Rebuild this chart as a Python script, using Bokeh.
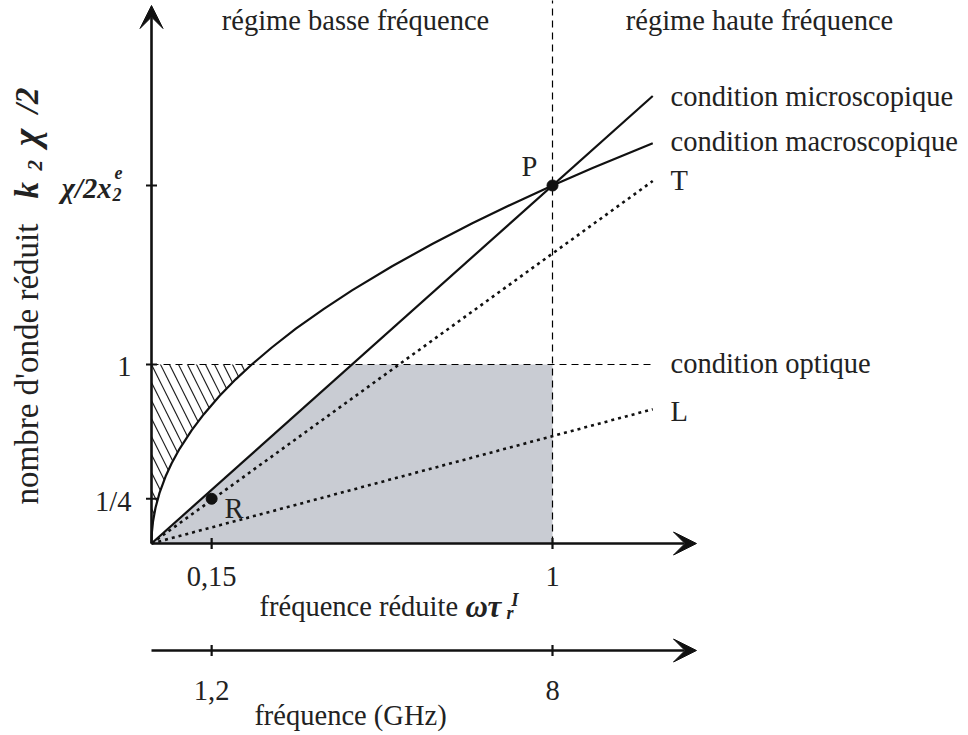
import numpy as np
from bokeh.plotting import figure
from bokeh.models import Arrow, VeeHead, Range1d
from bokeh.core.properties import value
from bokeh.embed import file_html
from bokeh.resources import INLINE

# ---------------- data ----------------
x_tick_vals = [0.15, 1.0]
x_tick_labels = ["0,15", "1"]
ghz_tick_vals = [0.15, 1.0]
ghz_tick_labels = ["1,2", "8"]
y_tick_vals = [0.25, 1.0, 2.0]
y_tick_labels = ["1/4", "1", "χ/2x"]

x_end = 1.25             # right end of the drawn curves
micro_slope = 2.0        # condition microscopique : straight line
T_slope = 1.62           # T (dotted)
L_slope = 0.60           # L (dotted)
optical_y = 1.0          # condition optique
crossover_x = 1.0        # low / high frequency boundary

# condition macroscopique
macro_x = [0.0, 0.001, 0.004, 0.01, 0.02, 0.035, 0.05, 0.07, 0.10, 0.13, 0.17,
           0.21, 0.25, 0.30, 0.36, 0.43, 0.50, 0.60, 0.70, 0.80, 0.90, 1.00,
           1.10, 1.25]
macro_y = [0.0, 0.063, 0.126, 0.20, 0.283, 0.374, 0.447, 0.529, 0.632, 0.721,
           0.825, 0.917, 1.0, 1.095, 1.20, 1.311, 1.414, 1.549, 1.673, 1.789,
           1.897, 2.0, 2.098, 2.236]

P_pt = (1.0, 2.0)
R_pt = (0.15, 0.25)

# ---------------- layout helpers (page pixels -> data) ----------------
OX, OY, SX, SY = 152.0, 544.0, 401.0, 179.0
OFF = 1
W, H = 960, 733
TB = 6   # text baseline correction (px)


def X(px):
    return (px - OX) / SX


def Y(py):
    return (OY - py) / SY


def TY(py):
    return Y(py - TB)


def TX(px):
    return X(px - TB)


FONT = value("Liberation Serif")
FS = "28.5px"

p = figure(width=W, height=H, output_backend="svg", toolbar_location=None,
           x_range=Range1d(X(OFF), X(OFF + W)), y_range=Range1d(Y(OFF + H), Y(OFF)),
           min_border=0, outline_line_color=None)
p.axis.visible = False
p.grid.visible = False
p.background_fill_color = "white"

# gray region (below microscopic line, below optical condition, left of crossover)
gx = [0.0, optical_y / micro_slope, crossover_x, crossover_x]
gy = [0.0, optical_y, optical_y, 0.0]
p.patch(gx, gy, fill_color="#c9ccd3", line_color=None)

# hatched region (left of macroscopic curve, below optical condition)
hx = [0.0, 0.0]
hy = [0.0, optical_y]
idx = [i for i, v in enumerate(macro_y) if v <= optical_y]
for i in reversed(idx):
    hx.append(macro_x[i])
    hy.append(macro_y[i])
p.patch(hx, hy, fill_alpha=0, line_color=None, hatch_pattern="\\",
        hatch_color="#222222", hatch_weight=1.2, hatch_scale=18)

# dashed guides
p.line([0.0, x_end], [optical_y, optical_y], line_color="black",
       line_width=1.2, line_dash="7 5")
p.line([crossover_x, crossover_x], [0.0, Y(0)], line_color="black",
       line_width=1.2, line_dash="7 5")

# curves
p.line([0.0, x_end], [0.0, micro_slope * x_end], line_color="#111111", line_width=2.2)
p.line(macro_x, macro_y, line_color="#111111", line_width=2.2)
p.line([0.0, x_end], [0.0, T_slope * x_end], line_color="#111111",
       line_width=2.6, line_dash="3 4")
p.line([0.0, x_end], [0.0, L_slope * x_end], line_color="#111111",
       line_width=2.6, line_dash="3 4")

# points
p.scatter([P_pt[0], R_pt[0]], [P_pt[1], R_pt[1]], size=11, color="#111111")

# axes (arrows)
head = dict(size=23, fill_color="#111111", line_color="#111111")
p.add_layout(Arrow(end=VeeHead(**head), x_start=0.0, y_start=0.0,
                   x_end=0.0, y_end=Y(6), line_width=2.6, line_color="#111111"))
p.add_layout(Arrow(end=VeeHead(**head), x_start=0.0, y_start=0.0,
                   x_end=X(697), y_end=0.0, line_width=2.6, line_color="#111111"))
ghz_y = Y(651)
p.add_layout(Arrow(end=VeeHead(**head), x_start=0.0, y_start=ghz_y,
                   x_end=X(697), y_end=ghz_y, line_width=2.6, line_color="#111111"))

# ticks
tk = 5.5
p.segment(x0=[X(OX - tk)] * 3, y0=y_tick_vals, x1=[X(OX + tk)] * 3, y1=y_tick_vals,
          line_color="#111111", line_width=2.2)
p.segment(x0=x_tick_vals, y0=[-tk / SY] * 2, x1=x_tick_vals, y1=[tk / SY] * 2,
          line_color="#111111", line_width=2.2)
p.segment(x0=ghz_tick_vals, y0=[ghz_y - tk / SY] * 2, x1=ghz_tick_vals,
          y1=[ghz_y + tk / SY] * 2, line_color="#111111", line_width=2.2)

txt = dict(text_font=FONT, text_font_size=FS, text_color="#222222",
           text_baseline="alphabetic")

# tick labels
p.text(x=x_tick_vals, y=[TY(583)] * 2, text=x_tick_labels, text_align="center", **txt)
p.text(x=ghz_tick_vals, y=[TY(697)] * 2, text=ghz_tick_labels, text_align="center", **txt)
p.text(x=[X(132)] * 2, y=[TY(508), TY(373)], text=y_tick_labels[:2],
       text_align="right", **txt)
bi = dict(txt, text_font_style="bold italic")
p.text(x=[X(112)], y=[TY(195)], text=[y_tick_labels[2]], text_align="right", **bi)
small_bi = dict(bi, text_font_size="18px")
p.text(x=[X(113)], y=[TY(201)], text=["2"], text_align="left", **small_bi)
p.text(x=[X(115)], y=[TY(179)], text=["e"], text_align="left", **small_bi)

# axis titles
p.text(x=[X(260)], y=[TY(613)], text=["fréquence réduite"], text_align="left", **txt)
p.text(x=[X(466)], y=[TY(613)], text=["ωτ"], text_align="left",
       **dict(bi, text_font_size="31px"))
p.text(x=[X(507)], y=[TY(619)], text=["r"], text_align="left", **small_bi)
p.text(x=[X(512)], y=[TY(606)], text=["I"], text_align="left", **small_bi)
p.text(x=[X(351)], y=[TY(722)], text=["fréquence (GHz)"], text_align="center", **txt)

# rotated y title
ylab = dict(txt, text_font_size="33px")
ylab_bi = dict(bi, text_font_size="33px")
p.text(x=[TX(33)], y=[Y(505)], text=["nombre d'onde réduit"], angle=np.pi / 2,
       text_align="left", **ylab)
p.text(x=[TX(33)], y=[Y(199)], text=["k"], angle=np.pi / 2, text_align="left", **ylab_bi)
p.text(x=[TX(41)], y=[Y(171)], text=["2"], angle=np.pi / 2, text_align="left",
       **dict(small_bi, text_font_size="21px"))
p.text(x=[TX(33)], y=[Y(138)], text=["χ"], angle=np.pi / 2, text_align="center",
       **dict(bi, text_font_size="37px"))
p.text(x=[TX(33)], y=[Y(88)], text=["/2"], angle=np.pi / 2, text_align="right", **ylab_bi)

# regime labels
p.text(x=[X(356), X(760)], y=[TY(27)] * 2,
       text=["régime basse fréquence", "régime haute fréquence"],
       text_align="center", **txt)

# curve labels
p.text(x=[X(671)] * 5, y=[TY(103), TY(148), TY(187), TY(370), TY(418)],
       text=["condition microscopique", "condition macroscopique", "T",
             "condition optique", "L"], text_align="left", **txt)
p.text(x=[X(522), X(225)], y=[TY(173), TY(515)], text=["P", "R"],
       text_align="left", **txt)

open("out.html", "w").write(file_html(p, INLINE))
